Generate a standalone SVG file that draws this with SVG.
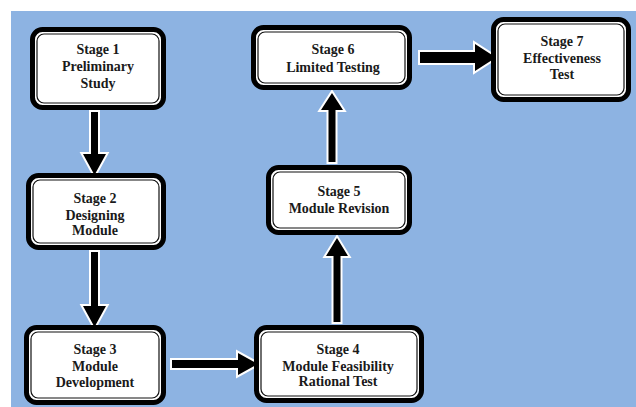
<svg xmlns="http://www.w3.org/2000/svg" width="636" height="407" viewBox="0 0 636 407">
<style>
.bo{fill:#fff;stroke:#000;stroke-width:5}
.bi{fill:none;stroke:#111;stroke-width:1.2}
.t{font-family:"Liberation Serif","Times New Roman",serif;font-weight:bold;font-size:14px;fill:#1a1a1a;text-anchor:middle}
.ar{fill:#000;stroke:#fff;stroke-width:4;paint-order:stroke;stroke-linejoin:miter}
</style>
<rect x="0" y="0" width="636" height="407" fill="#fff"/>
<rect x="11" y="11" width="625" height="396" fill="#8db3e2"/>
<g id="connectors">
<path class="ar" d="M91,112 H98 V154 H106 L94.5,175 L83,154 H91 Z"/>
<path class="ar" d="M91,252 H98 V306 H106 L94.5,327 L83,306 H91 Z"/>
<path class="ar" d="M172,360 H238 V353 L258,364 L238,375 V368 H172 Z"/>
<path class="ar" d="M333.5,322 V256 H326 L337,238 L348,256 H340.5 V322 Z"/>
<path class="ar" d="M328.5,162 V110 H321 L332,93 L343,110 H335.5 V162 Z"/>
<path class="ar" d="M420,52 H475 V44 L496,57.5 L475,71 V63 H420 Z"/>
</g>
<g id="stage1">
<rect class="bo" x="32.5" y="29.5" width="131" height="78" rx="10"/>
<rect class="bi" x="37" y="34" width="122" height="69" rx="7"/>
<text class="t" x="98" y="54">Stage 1</text>
<text class="t" x="98" y="71">Preliminary</text>
<text class="t" x="98" y="88">Study</text>
</g>
<g id="stage2">
<rect class="bo" x="28.5" y="175.5" width="135" height="72" rx="10"/>
<rect class="bi" x="33" y="180" width="126" height="63" rx="7"/>
<text class="t" x="95" y="203">Stage 2</text>
<text class="t" x="95" y="220">Designing</text>
<text class="t" x="95" y="235">Module</text>
</g>
<g id="stage3">
<rect class="bo" x="26.5" y="327.5" width="137" height="75" rx="10"/>
<rect class="bi" x="31" y="332" width="128" height="66" rx="7"/>
<text class="t" x="95" y="354">Stage 3</text>
<text class="t" x="95" y="371">Module</text>
<text class="t" x="95" y="387">Development</text>
</g>
<g id="stage4">
<rect class="bo" x="256.5" y="327.5" width="165" height="73" rx="10"/>
<rect class="bi" x="261" y="332" width="156" height="64" rx="7"/>
<text class="t" x="338" y="354">Stage 4</text>
<text class="t" x="338" y="371">Module Feasibility</text>
<text class="t" x="338" y="386">Rational Test</text>
</g>
<g id="stage5">
<rect class="bo" x="268.5" y="167.5" width="141" height="65" rx="10"/>
<rect class="bi" x="273" y="172" width="132" height="56" rx="7"/>
<text class="t" x="339" y="196">Stage 5</text>
<text class="t" x="339" y="213">Module Revision</text>
</g>
<g id="stage6">
<rect class="bo" x="253.5" y="27.5" width="156" height="60" rx="10"/>
<rect class="bi" x="258" y="32" width="147" height="51" rx="7"/>
<text class="t" x="333" y="54">Stage 6</text>
<text class="t" x="333" y="72">Limited Testing</text>
</g>
<g id="stage7">
<rect class="bo" x="493.5" y="19.5" width="135" height="80" rx="10"/>
<rect class="bi" x="498" y="24" width="126" height="71" rx="7"/>
<text class="t" x="562" y="46">Stage 7</text>
<text class="t" x="562" y="63">Effectiveness</text>
<text class="t" x="562" y="79">Test</text>
</g>
</svg>
